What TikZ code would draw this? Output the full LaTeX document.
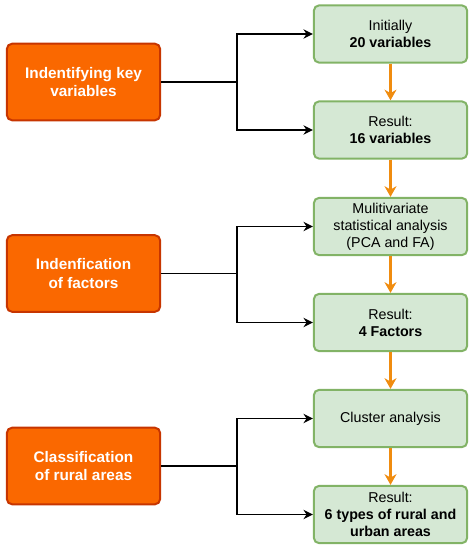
\documentclass[tikz,border=0pt]{standalone}
\usepackage{fontspec}
\setmainfont{Liberation Sans}
\usepackage{tikz}
\usetikzlibrary{arrows.meta,positioning}
\definecolor{taskfill}{HTML}{FA6800}
\definecolor{taskline}{HTML}{C73500}
\definecolor{resfill}{HTML}{D5E8D4}
\definecolor{resline}{HTML}{82B366}
\definecolor{flowc}{HTML}{F08C0F}

\begin{document}
\begin{tikzpicture}[
    x=0.75pt, y=-0.75pt,
    task/.style={draw=taskline, fill=taskfill, line width=1.5pt, rounded corners=4pt, minimum width=115pt, minimum height=57.5pt, align=center, text=white, font=\fontsize{11.5}{13.75}\selectfont\bfseries},
    res/.style={draw=resline, fill=resfill, line width=1.5pt, rounded corners=4pt, minimum width=115pt, minimum height=43pt, align=center, font=\fontsize{10.7}{12.7}\selectfont},
    arr/.style={-{Stealth[length=7pt, width=7pt]}, line width=1.4pt},
    flow/.style={-{Stealth[length=8pt, width=9pt]}, line width=1.8pt, draw=flowc}
]
\useasboundingbox (0,0) rectangle (474,550);

\node[task] (keyvar) at (83.5,82) {Indentifying key\\variables};
\node[task] (factors) at (83.5,273.5) {Indenfication\\of factors};
\node[task] (classif) at (83.5,466) {Classification\\of rural areas};

\node[res] (init) at (390.5,34) {Initially\\\textbf{20 variables}};
\node[res] (res16) at (390.5,130) {Result:\\\textbf{16 variables}};
\node[res] (mva) at (390.5,226.5) {Mulitivariate\\statistical analysis\\(PCA and FA)};
\node[res] (res4) at (390.5,322.5) {Result:\\\textbf{4 Factors}};
\node[res] (clust) at (390.5,418.5) {Cluster analysis};
\node[res] (res6) at (390.5,514.5) {Result:\\\textbf{6 types of rural and}\\\textbf{urban areas}};

\coordinate (j1) at (237,82);
\coordinate (j2) at (237,273.5);
\coordinate (j3) at (237,466);

\draw[arr] (keyvar.east) -- (j1) |- (init.west);
\draw[arr] (j1) |- (res16.west);
\draw[arr] (factors.east) -- (j2) |- (mva.west);
\draw[arr] (j2) |- (res4.west);
\draw[arr] (classif.east) -- (j3) |- (clust.west);
\draw[arr] (j3) |- (res6.west);

\draw[flow] (init) -- (res16);
\draw[flow] (res16) -- (mva);
\draw[flow] (mva) -- (res4);
\draw[flow] (res4) -- (clust);
\draw[flow] (clust) -- (res6);
\end{tikzpicture}
\end{document}
